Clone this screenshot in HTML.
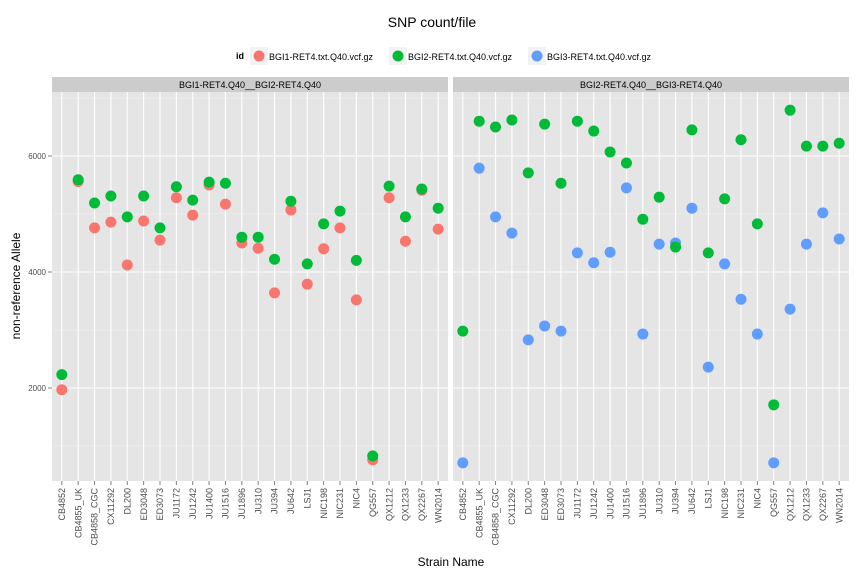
<!DOCTYPE html>
<html><head><meta charset="utf-8"><style>body{margin:0;background:#fff}svg{display:block;font-family:"Liberation Sans",Arial,sans-serif}</style></head>
<body>
<svg id="c" width="864" height="576" xmlns="http://www.w3.org/2000/svg"></svg>
<script>
const categories=["CB4852","CB4855_UK","CB4858_CGC","CX11292","DL200","ED3048","ED3073","JU1172","JU1242","JU1400","JU1516","JU1896","JU310","JU394","JU642","LSJ1","NIC198","NIC231","NIC4","QG557","QX1212","QX1233","QX2267","WN2014"];
const leftBGI1=[1970,5560,4760,4860,4120,4880,4550,5280,4980,5500,5170,4500,4410,3640,5070,3790,4400,4760,3520,760,5280,4530,5410,4740];
const leftBGI2=[2230,5590,5190,5310,4950,5310,4760,5470,5240,5550,5530,4600,4600,4220,5220,4140,4830,5050,4200,830,5480,4950,5430,5100];
const rightBGI2=[2980,6600,6500,6620,5710,6550,5530,6600,6430,6070,5880,4910,5290,4430,6450,4330,5260,6280,4830,1710,6790,6170,6170,6220];
const rightBGI3=[710,5790,4950,4670,2830,3070,2980,4330,4160,4340,5450,2930,4480,4500,5100,2360,4140,3530,2930,710,3360,4480,5020,4570];
const yTicks=[2000,4000,6000];
const yMinor=[1000,3000,5000,7000];
const legendLabels=["BGI1-RET4.txt.Q40.vcf.gz","BGI2-RET4.txt.Q40.vcf.gz","BGI3-RET4.txt.Q40.vcf.gz"];
const colors=["#F8766D","#00BA38","#619CFF"];
const NS="http://www.w3.org/2000/svg";
const svg=document.getElementById('c');
function mk(t,a,p){const e=document.createElementNS(NS,t);for(const k in a)e.setAttribute(k,a[k]);(p||svg).appendChild(e);return e;}
const pTop=92,pBot=481;
function yS(v){return 504-v*0.058;}
const panels=[{x0:52,x1:448,title:"BGI1-RET4.Q40__BGI2-RET4.Q40",series:[[leftBGI1,0],[leftBGI2,1]]},
{x0:453,x1:849,title:"BGI2-RET4.Q40__BGI3-RET4.Q40",series:[[rightBGI3,2],[rightBGI2,1]]}];
let t=mk('text',{x:432,y:27,'text-anchor':'middle','font-size':14});t.textContent="SNP count/file";


const lg=mk('g',{});


t=mk('text',{x:236,y:59,'font-size':9,'font-weight':'bold'},lg);t.textContent="id";
const lx=[259,398,537];
legendLabels.forEach((l,i)=>{const g=mk('g',{},lg);


mk('rect',{x:lx[i]-9,y:47,width:18,height:18,fill:'#F2F2F2'},g);
mk('circle',{cx:lx[i],cy:56,r:5.5,fill:colors[i]},g);
const tx=mk('text',{x:lx[i]+10,y:60,'font-size':9},g);tx.textContent=l;});
panels.forEach((p,pi)=>{
 const g=mk('g',{});
 
 
 const step=(p.x1-p.x0)/(categories.length-1+1.2);
 const xS=i=>p.x0+step*(0.6+i);
 mk('rect',{x:p.x0,y:77,width:p.x1-p.x0,height:15,fill:'#CCCCCC'},g);
 const st=mk('text',{x:(p.x0+p.x1)/2,y:88,'text-anchor':'middle','font-size':9},g);st.textContent=p.title;
 
 
 mk('rect',{x:p.x0,y:pTop,width:p.x1-p.x0,height:pBot-pTop,fill:'#E5E5E5'},g);
 yMinor.forEach(v=>{const y=yS(v);if(y>pTop&&y<pBot)mk('line',{x1:p.x0,x2:p.x1,y1:y,y2:y,stroke:'#F2F2F2','stroke-width':0.6},g);});
 yTicks.forEach(v=>mk('line',{x1:p.x0,x2:p.x1,y1:yS(v),y2:yS(v),stroke:'#fff','stroke-width':1.1},g));
 categories.forEach((c,i)=>{const x=xS(i);
  mk('line',{x1:x,x2:x,y1:pTop,y2:pBot,stroke:'#fff','stroke-width':1.1},g);
  mk('line',{x1:x,x2:x,y1:pBot,y2:pBot+4,stroke:'#7F7F7F'},g);
  const tl=mk('text',{x:0,y:0,'text-anchor':'end','font-size':9,fill:'#4D4D4D',transform:`translate(${x+3.2},${pBot+7}) rotate(-90)`},g);tl.textContent=c;
  
  
 });
 p.series.forEach(([arr,ci])=>arr.forEach((v,i)=>{
  const pt=mk('circle',{cx:xS(i),cy:yS(v),r:5.5,fill:colors[ci]},g);
  
  
 }));
});
yTicks.forEach(v=>{mk('line',{x1:48,x2:52,y1:yS(v),y2:yS(v),stroke:'#7F7F7F'});
 const tl=mk('text',{x:46,y:yS(v)+3,'text-anchor':'end','font-size':8,fill:'#4D4D4D'});tl.textContent=v;
 
 });
t=mk('text',{x:0,y:0,'text-anchor':'middle','font-size':12,transform:'translate(20,286) rotate(-90)'});t.textContent="non-reference Allele";


t=mk('text',{x:451,y:566,'text-anchor':'middle','font-size':12});t.textContent="Strain Name";


</script>
</body></html>
